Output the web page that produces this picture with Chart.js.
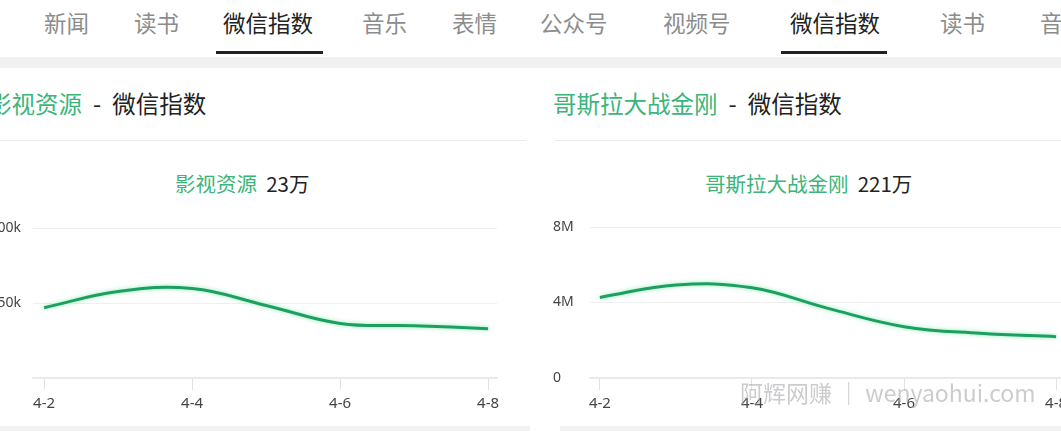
<!DOCTYPE html>
<html>
<head>
<meta charset="utf-8">
<script src="https://cdn.jsdelivr.net/npm/chart.js@4/dist/chart.umd.min.js"></script>
<style>
  html, body { margin: 0; padding: 0; }
  body {
    width: 1061px; height: 431px; overflow: hidden; position: relative;
    background: #fff; font-family: "Noto Sans CJK SC", "Noto Sans", sans-serif;
  }
  .tab { position: absolute; top: 6px; font-size: 22.5px; color: #8c8c8c; line-height: 32px; white-space: nowrap; }
  .tab.active { color: #222; }
  .bar { position: absolute; top: 51px; height: 3px; background: #222; }
  .band { position: absolute; left: 0; top: 57px; width: 1061px; height: 11px; background: #f1f1f1; }
  .title { position: absolute; top: 87px; font-size: 23.5px; line-height: 32px; color: #222; white-space: nowrap; }
  .dash { margin: 0 11px; }
  .green { color: #3bb57a; }
  .divider { position: absolute; top: 140px; height: 1px; background: #ececec; }
  .legend { position: absolute; top: 169px; font-size: 20.5px; line-height: 28px; color: #222; white-space: nowrap; }
  canvas { position: absolute; }
  .mark { position: absolute; left: 740px; top: 375px; font-size: 23px; color: rgba(170,170,175,0.6); white-space: nowrap; }
  .foot { position: absolute; top: 426px; height: 5px; background: #f2f2f2; }
</style>
</head>
<body>
  <span class="tab" style="left:44px">新闻</span>
  <span class="tab" style="left:134px">读书</span>
  <span class="tab active" style="left:223px">微信指数</span>
  <span class="tab" style="left:362px">音乐</span>
  <span class="tab" style="left:452px">表情</span>
  <span class="tab" style="left:540px">公众号</span>
  <span class="tab" style="left:663px">视频号</span>
  <span class="tab active" style="left:790px">微信指数</span>
  <span class="tab" style="left:940px">读书</span>
  <span class="tab" style="left:1040px">音乐</span>
  <div class="bar" style="left:216px;width:107px"></div>
  <div class="bar" style="left:781px;width:106px"></div>
  <div class="band"></div>

  <div class="title" style="left:-12px"><span class="green">影视资源</span><span class="dash">-</span>微信指数</div>
  <div class="title" style="left:553px"><span class="green">哥斯拉大战金刚</span><span class="dash">-</span>微信指数</div>
  <div class="divider" style="left:0;width:526px"></div>
  <div class="divider" style="left:555px;width:506px"></div>

  <div class="legend" style="left:175px"><span class="green">影视资源</span>&nbsp; 23万</div>
  <div class="legend" style="left:705px"><span class="green">哥斯拉大战金刚</span>&nbsp; 221万</div>

  <canvas id="filmChart" width="532" height="210" style="left:-20px;top:208px"></canvas>
  <canvas id="godzillaChart" width="528" height="203" style="left:553px;top:215px"></canvas>

  <div class="foot" style="left:0;width:530px"></div>
  <div class="foot" style="left:560px;width:501px"></div>
  <div class="mark">阿辉网赚 ｜ wenyaohui.com</div>

<script>
const days = ['4-2', '4-3', '4-4', '4-5', '4-6', '4-7', '4-8'];
const tickDays = ['4-2', '4-4', '4-6', '4-8'];
const filmIndex = [47000, 57800, 59800, 48500, 36500, 35000, 33000];
const godzillaIndex = [4270000, 4930000, 4780000, 3690000, 2720000, 2370000, 2190000];
const filmTicks = [0, 50000, 100000];
const godzillaTicks = [0, 4000000, 8000000];

// soft green glow under the line
const glow = {
  id: 'glow',
  beforeDatasetDraw(chart) {
    const ctx = chart.ctx;
    ctx.save();
    ctx.shadowColor = 'rgba(90, 230, 150, 0.7)';
    ctx.shadowBlur = 4;
  },
  afterDatasetDraw(chart) {
    chart.ctx.restore();
  }
};

function makeChart(id, values, yTicks, fmt, opts) {
  const ctx = document.getElementById(id).getContext('2d');
  const points = values.map((v, i) => ({ x: i + 2, y: v }));
  return new Chart(ctx, {
    type: 'line',
    data: {
      datasets: [{
        data: points,
        borderColor: '#1e9f62',
        borderWidth: 3,
        pointRadius: 0,
        tension: 0.4,
        fill: false
      }]
    },
    options: {
      responsive: false,
      animation: false,
      layout: { padding: { top: 12, right: 15, bottom: 0, left: 0 } },
      plugins: { legend: { display: false }, tooltip: { enabled: false } },
      scales: {
        x: {
          type: 'linear',
          min: opts.xMin,
          max: opts.xMax,
          afterBuildTicks: s => {
            s.ticks = tickDays.map(d => ({ value: days.indexOf(d) + 2 }));
          },
          afterFit: s => { s.height = 40; },
          ticks: {
            callback: v => days[v - 2],
            color: '#444',
            font: { size: 15, family: 'Noto Sans, sans-serif' },
            padding: 5,
            maxRotation: 0,
            autoSkip: false
          },
          grid: {
            drawOnChartArea: false,
            tickLength: 12,
            color: '#e2e2e2'
          },
          border: { color: '#e8e8e8', width: 1.5 }
        },
        y: {
          min: yTicks[0],
          max: yTicks[yTicks.length - 1],
          afterBuildTicks: s => {
            s.ticks = yTicks.map(v => ({ value: v }));
          },
          afterFit: s => { s.width = opts.yWidth; },
          ticks: {
            callback: fmt,
            color: '#444',
            font: { size: 14, family: 'Noto Sans, sans-serif' },
            padding: opts.yPad,
            crossAlign: opts.align
          },
          grid: { drawTicks: false, color: '#efefef' },
          border: { display: false }
        }
      }
    },
    plugins: [glow]
  });
}

makeChart('filmChart', filmIndex, filmTicks,
  v => (v === 0 ? '' : v / 1000 + 'k'),
  { xMin: 1.85, xMax: 8.12, yWidth: 53, yPad: 12, align: 'near' });

makeChart('godzillaChart', godzillaIndex, godzillaTicks,
  v => (v === 0 ? '0' : v / 1000000 + 'M'),
  { xMin: 1.87, xMax: 8.13, yWidth: 37, yPad: 0, align: 'far' });
</script>
</body>
</html>
